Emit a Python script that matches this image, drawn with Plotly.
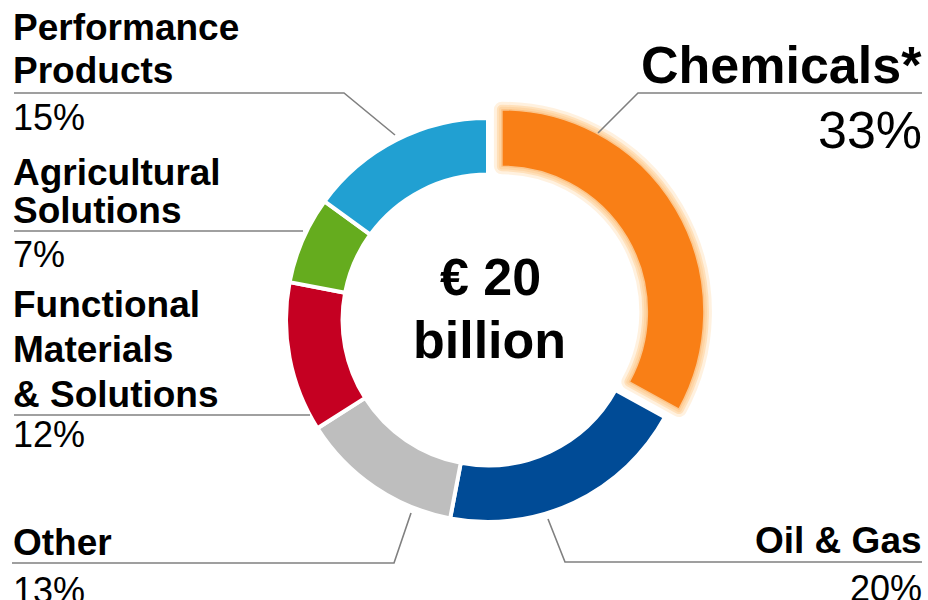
import plotly.graph_objects as go

# ---- data ----
segments = ["Chemicals*", "Oil & Gas", "Other", "Functional Materials & Solutions",
            "Agricultural Solutions", "Performance Products"]
shares = [33, 20, 13, 12, 7, 15]
colors = ["#F97F16", "#004B96", "#BEBEBE", "#C50022", "#65AC1E", "#21A0D2"]
pulls = [0.08, 0, 0, 0, 0, 0]
center_lines = ["€ 20", "billion"]

W, H = 928, 600

def px(x):
    return x / W

def py(y):
    return 1 - y / H

# pie placement (pixels)
CX, CY, R = 488, 320, 202
half = R * (1 + max(pulls))
dom_x = [px(CX - half), px(CX + half)]
dom_y = [py(CY + half), py(CY - half)]

fig = go.Figure()

# glow behind the highlighted slice
for lw, col in [(16, "rgba(255,190,110,0.22)"), (10, "rgba(255,200,130,0.40)"),
                (6, "rgba(253,205,150,0.6)")]:
    fig.add_trace(go.Pie(
        labels=segments, values=shares, sort=False, direction="clockwise", rotation=0,
        hole=0.72, pull=pulls, domain=dict(x=dom_x, y=dom_y),
        marker=dict(colors=[colors[0] if i == 0 else "rgba(0,0,0,0)" for i in range(len(shares))],
                    line=dict(color=[col if i == 0 else "rgba(0,0,0,0)" for i in range(len(shares))],
                              width=[lw if i == 0 else 0 for i in range(len(shares))])),
        textinfo="none", hoverinfo="skip", showlegend=False))

fig.add_trace(go.Pie(
    labels=segments, values=shares, sort=False, direction="clockwise", rotation=0,
    hole=0.72, pull=pulls, domain=dict(x=dom_x, y=dom_y),
    marker=dict(colors=colors,
                line=dict(color=["#FBC48A"] + ["white"] * (len(shares) - 1),
                          width=[1.5] + [4] * (len(shares) - 1))),
    textinfo="none", hoverinfo="label+percent", showlegend=False))

FONT = "Liberation Sans, Arial, sans-serif"

def baseline_to_center(b, fs):
    return b - 0.3465 * fs

# label text lines: (text, x_px, baseline_px, size, bold, anchor)
label_lines = [
    ("Performance", 11, 40, 37, True, "left"),
    ("Products", 11, 83, 37, True, "left"),
    ("15%", 11, 130, 36, False, "left"),
    ("Agricultural", 11, 185, 37, True, "left"),
    ("Solutions", 11, 223, 37, True, "left"),
    ("7%", 11, 267, 36, False, "left"),
    ("Functional", 11, 317, 37, True, "left"),
    ("Materials", 11, 362, 37, True, "left"),
    ("& Solutions", 11, 407, 37, True, "left"),
    ("12%", 11, 447, 36, False, "left"),
    ("Other", 11, 555, 37, True, "left"),
    ("13%", 11, 603, 36, False, "left"),
    ("Chemicals*", 924, 83, 52, True, "right"),
    ("33%", 924, 148, 52, False, "right"),
    ("Oil & Gas", 924, 553, 37, True, "right"),
    ("20%", 924, 601, 36, False, "right"),
    (center_lines[0], 490, 295, 52, True, "center"),
    (center_lines[1], 489, 358, 52, True, "center"),
]

for text, x, b, fs, bold, anchor in label_lines:
    fig.add_annotation(
        text=text, x=px(x), y=py(baseline_to_center(b, fs)), xref="paper", yref="paper",
        xanchor=anchor, yanchor="middle", showarrow=False,
        font=dict(family=FONT, size=fs, color="black", weight="bold" if bold else "normal"))

# leader lines (pixel polylines)
leaders = [
    [(14, 93), (344, 93), (395, 135)],
    [(14, 231), (303, 231)],
    [(14, 415), (310, 415)],
    [(12, 563), (394, 563), (411, 513)],
    [(922, 93), (638, 93), (598, 133)],
    [(922, 562), (565, 562), (548, 519)],
]
for pts in leaders:
    path = "M " + " L ".join(f"{px(x):.5f},{py(y):.5f}" for x, y in pts)
    fig.add_shape(type="path", path=path, xref="paper", yref="paper",
                  line=dict(color="#808080", width=1.6))

fig.update_layout(width=W, height=H, margin=dict(l=0, r=0, t=0, b=0),
                  paper_bgcolor="white", plot_bgcolor="white")

fig.write_html("out.html", config={"displayModeBar": False},
               post_script="document.body.style.margin='0';document.body.style.overflow='hidden';")
